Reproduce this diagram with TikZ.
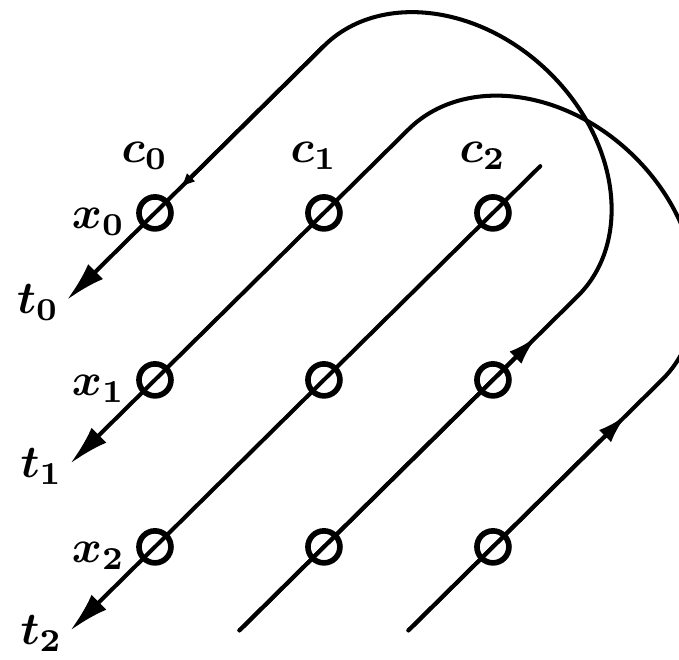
\documentclass[tikz,border=0pt]{standalone}
\usepackage{tikz}
\usetikzlibrary{arrows.meta}
\tikzset{
  wire/.style={line width=2.3pt, line cap=round},
  ring/.style={circle, draw, line width=3.2pt, minimum size=6.4mm, inner sep=0pt},
  outtip/.style={-{Latex[length=8mm,width=4.2mm]}},
  midtip/.style={-{Latex[length=6mm,width=3.4mm]}},
  smalltip/.style={-{Latex[length=3mm,width=2.4mm]}},
  lab/.style={font=\boldmath, inner sep=0pt, scale=2.6},
}

\begin{document}
\begin{tikzpicture}[x=3.38cm,y=3.34cm]
  \useasboundingbox (-0.917,-2.677) rectangle (3.101,1.275);
  \clip (-0.917,-2.677) rectangle (3.101,1.275);
  % ends of the wires
  \coordinate (tip0) at (-0.52,-0.52);
  \coordinate (tip1) at (-0.5,-1.5);
  \coordinate (tip2) at (-0.5,-2.5);
  \coordinate (lo3) at (0.5,-2.5);
  \coordinate (lo4) at (1.5,-2.5);
  \coordinate (hi2) at (2.28,0.28);
  % where the loops meet the wires
  \coordinate (a0) at (1,1);
  \coordinate (b0) at (2.5,-0.5);
  \coordinate (top0) at (2.337,0.837);
  \coordinate (a1) at (1.5,0.5);
  \coordinate (b1) at (3,-1);
  \coordinate (top1) at (2.837,0.337);
  % arrow marks on the way
  \coordinate (m0) at (0.15,0.15);
  \coordinate (m3) at (2.26,-0.74);
  \coordinate (m4) at (2.79,-1.21);

  % loop 0
  \draw[wire,outtip] (lo3) -- (b0) .. controls +(0.324,0.324) and +(0.414,-0.414) .. (top0)
    .. controls +(-0.414,0.414) and +(0.324,0.324) .. (a0) -- (tip0);
  \draw[wire,midtip] (lo3) -- (m3);
  \draw[wire,smalltip] (a0) -- (m0);
  % loop 1
  \draw[wire,outtip] (lo4) -- (b1) .. controls +(0.324,0.324) and +(0.414,-0.414) .. (top1)
    .. controls +(-0.414,0.414) and +(0.324,0.324) .. (a1) -- (tip1);
  \draw[wire,midtip] (lo4) -- (m4);
  % open wire
  \draw[wire,outtip] (hi2) -- (tip2);

  \foreach \i in {0,1,2}
    \foreach \j in {0,1,2}
      \node[ring] (r\i\j) at (\i,-\j) {};

  \foreach \i in {0,1,2} {
    \node[anchor=base,xshift=-2mm,yshift=10mm,lab] (lc\i) at (r\i0.center) {$c_\i$};
    \node[anchor=base east,xshift=-5.8mm,yshift=-3.2mm,lab] (lx\i) at (r0\i.center) {$x_\i$};
    \node[anchor=base east,xshift=-1.4mm,yshift=-2.8mm,lab] (lt\i) at (tip\i) {$t_\i$};
  }
\end{tikzpicture}
\end{document}
